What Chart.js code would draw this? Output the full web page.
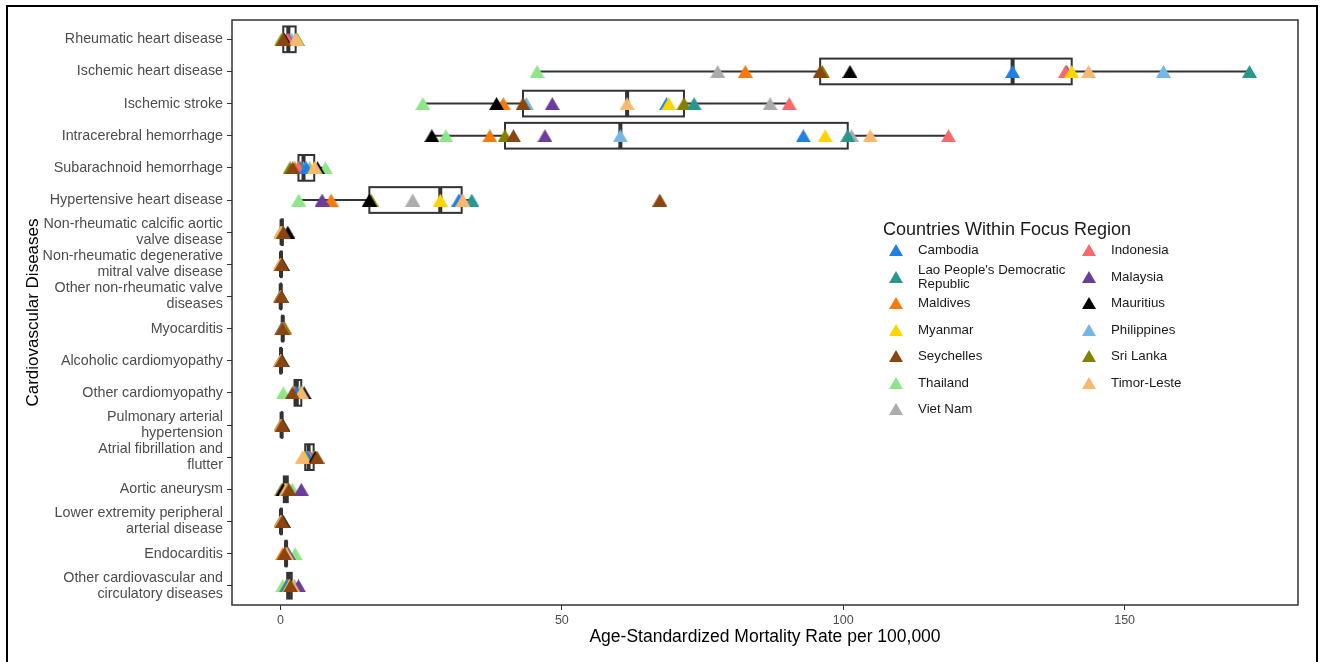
<!DOCTYPE html>
<html lang="en">
<head>
<meta charset="UTF-8">
<title>Cardiovascular disease mortality - focus region</title>
<script src="https://cdn.jsdelivr.net/npm/chart.js@4.4.1/dist/chart.umd.min.js"></script>
<style>
  body { margin: 0; background: #fff; font-family: 'Liberation Sans', Arial, sans-serif; }
  #wrap { position: relative; width: 1325px; height: 662px; overflow: hidden; background: #fff; }
  #frame { position: absolute; left: 6px; top: 5px; width: 1312px; height: 720px; border: 2px solid #000; box-sizing: border-box; }
  canvas { position: absolute; left: 0; top: 0; }
  #legendTitle { position: absolute; left: 883px; top: 218px; font-size: 18px; line-height: 22px; color: #1a1a1a; }
  #legend { position: absolute; left: 889px; top: 237px; display: grid; grid-template-columns: 193px auto; grid-auto-rows: 26.5px; }
  .item { display: flex; align-items: center; font-size: 13.3px; line-height: 14px; color: #1a1a1a; }
  .tri { width: 0; height: 0; border-left: 7px solid transparent; border-right: 7px solid transparent; border-bottom: 12px solid; margin-right: 15px; flex: none; }
</style>
</head>
<body>
<div id="wrap">
  <canvas id="chart" width="1325" height="662"></canvas>
  <div id="frame"></div>
  <div id="legendTitle">Countries Within Focus Region</div>
  <div id="legend"></div>
</div>
<script>
  // categories (top to bottom)
  const diseases = [
    'Rheumatic heart disease',
    'Ischemic heart disease',
    'Ischemic stroke',
    'Intracerebral hemorrhage',
    'Subarachnoid hemorrhage',
    'Hypertensive heart disease',
    'Non-rheumatic calcific aortic\nvalve disease',
    'Non-rheumatic degenerative\nmitral valve disease',
    'Other non-rheumatic valve\ndiseases',
    'Myocarditis',
    'Alcoholic cardiomyopathy',
    'Other cardiomyopathy',
    'Pulmonary arterial\nhypertension',
    'Atrial fibrillation and\nflutter',
    'Aortic aneurysm',
    'Lower extremity peripheral\narterial disease',
    'Endocarditis',
    'Other cardiovascular and\ncirculatory diseases'
  ];

  const countries = ['Cambodia', 'Indonesia', "Lao People's Democratic\nRepublic", 'Malaysia', 'Maldives', 'Mauritius',
    'Myanmar', 'Philippines', 'Seychelles', 'Sri Lanka', 'Thailand', 'Timor-Leste', 'Viet Nam'];
  const colors = ['#1f7fe3', '#f8696b', '#2a978c', '#6a3d9a', '#f77a0c', '#000000',
    '#fed402', '#74b6e6', '#8a4510', '#828200', '#8ee688', '#f9b870', '#acacac'];

  // age-standardized mortality per 100,000, one value per disease (same order as above)
  const cambodia    = [2.8, 130.1, 68.6, 92.9, 4.6, 31.7, 0.3, 0.1, 0.05, 0.3, 0.1, 2.8, 0.2, 4.8, 0.6, 0.1, 1.0, 1.2];
  const indonesia   = [1.3, 139.5, 90.4, 118.7, 3.2, 32.2, 0.2, 0.1, 0.05, 0.4, 0.0, 2.6, 0.2, 5.2, 0.9, 0.1, 1.0, 1.5];
  const lao         = [3.0, 172.2, 73.5, 100.8, 3.8, 34.0, 0.1, 0.0, 0.05, 0.5, 0.1, 3.7, 0.1, 4.4, 0.4, 0.1, 1.1, 1.4];
  const malaysia    = [1.4, 139.7, 48.3, 47.0, 3.5, 7.4, 0.4, 0.2, 0.1, 0.3, 0.0, 2.9, 0.3, 5.3, 3.7, 0.2, 1.4, 3.2];
  const maldives    = [0.4, 82.6, 39.6, 37.2, 2.6, 9.0, 0.2, 0.1, 0.05, 0.2, 0.0, 2.4, 0.1, 4.3, 0.2, 0.1, 0.4, 1.3];
  const mauritius   = [0.7, 101.2, 38.4, 26.9, 6.6, 15.8, 1.3, 0.3, 0.1, 0.6, 0.3, 4.2, 0.4, 6.2, 0.5, 0.5, 1.0, 2.0];
  const myanmar     = [2.9, 140.6, 69.0, 96.8, 6.0, 28.4, 0.1, 0.0, 0.0, 0.7, 0.1, 3.7, 0.2, 4.2, 0.7, 0.1, 0.9, 1.6];
  const philippines = [2.0, 156.9, 43.7, 60.4, 4.1, 31.9, 0.2, 0.1, 0.05, 0.4, 0.1, 3.2, 0.3, 5.0, 1.2, 0.1, 1.2, 2.5];
  const seychelles  = [0.5, 95.9, 43.1, 41.4, 2.2, 67.4, 0.5, 0.2, 0.1, 0.4, 0.2, 2.1, 0.3, 6.5, 1.5, 0.3, 0.7, 1.8];
  const sriLanka    = [0.3, 96.3, 71.7, 39.9, 1.7, 16.1, 0.3, 0.1, 0.05, 0.8, 0.1, 2.5, 0.2, 6.0, 1.3, 0.2, 0.9, 1.1];
  const thailand    = [0.1, 45.6, 25.3, 29.4, 8.0, 3.25, 0.4, 0.2, 0.1, 0.2, 0.2, 0.5, 0.2, 5.9, 2.1, 0.2, 2.6, 0.4];
  const timorLeste  = [2.7, 143.6, 61.6, 104.8, 6.2, 32.4, 0.1, 0.0, 0.0, 0.5, 0.0, 3.8, 0.1, 3.9, 1.0, 0.1, 1.1, 2.2];
  const vietNam     = [1.7, 77.7, 87.0, 101.5, 5.2, 23.5, 0.2, 0.1, 0.05, 0.3, 0.1, 3.4, 0.3, 4.9, 0.8, 0.1, 1.0, 1.0];

  const series = [cambodia, indonesia, lao, malaysia, maldives, mauritius, myanmar,
    philippines, seychelles, sriLanka, thailand, timorLeste, vietNam];

  const xTicks = [0, 50, 100, 150];

  // which markers sit on top where they overlap
  const onTop = ['Seychelles', 'Timor-Leste', 'Mauritius', 'Myanmar'];

  const FONT = "'Liberation Sans', Arial, sans-serif";
  const INK = '#333333';

  // legend (html, two columns filled by row)
  const legend = document.getElementById('legend');
  countries.forEach((c, i) => {
    const item = document.createElement('div');
    item.className = 'item';
    item.innerHTML = `<span class="tri" style="border-bottom-color:${colors[i]}"></span><span>${c.replace('\n', '<br>')}</span>`;
    legend.appendChild(item);
  });

  // triangle marker, box-centred on the point like ggplot's shape 17
  function triangle(color) {
    const c = document.createElement('canvas');
    c.width = 15; c.height = 13;
    const g = c.getContext('2d');
    g.fillStyle = color;
    g.beginPath();
    g.moveTo(0, 13); g.lineTo(7.5, 0); g.lineTo(15, 13);
    g.closePath();
    g.fill();
    return c;
  }

  function quantile(sorted, p) {
    const h = (sorted.length - 1) * p;
    const lo = Math.floor(h);
    const next = lo + 1 < sorted.length ? sorted[lo + 1] : sorted[lo];
    return sorted[lo] + (h - lo) * (next - sorted[lo]);
  }

  // boxplot per disease, computed from the country values
  const boxPlugin = {
    id: 'boxes',
    beforeDatasetsDraw(chart) {
      const { ctx, scales: { x, y } } = chart;
      ctx.save();
      ctx.strokeStyle = INK;
      diseases.forEach((d, i) => {
        const vals = series.map(s => s[i]).sort((a, b) => a - b);
        const q1 = quantile(vals, 0.25), med = quantile(vals, 0.5), q3 = quantile(vals, 0.75);
        const iqr = q3 - q1;
        const lo = Math.min(...vals.filter(v => v >= q1 - 1.5 * iqr));
        const hi = Math.max(...vals.filter(v => v <= q3 + 1.5 * iqr));
        const yc = y.getPixelForValue(i);
        const half = Math.abs(y.getPixelForValue(i + 0.4) - yc);
        const x1 = x.getPixelForValue(q1), x3 = x.getPixelForValue(q3);

        ctx.lineWidth = 2;
        ctx.beginPath();
        ctx.moveTo(x.getPixelForValue(lo), yc); ctx.lineTo(x1, yc);
        ctx.moveTo(x3, yc); ctx.lineTo(x.getPixelForValue(hi), yc);
        ctx.stroke();

        ctx.fillStyle = '#fff';
        ctx.fillRect(x1, yc - half, x3 - x1, 2 * half);
        ctx.strokeRect(x1, yc - half, x3 - x1, 2 * half);

        ctx.lineWidth = 4;
        ctx.beginPath();
        ctx.moveTo(x.getPixelForValue(med), yc - half);
        ctx.lineTo(x.getPixelForValue(med), yc + half);
        ctx.stroke();
      });
      ctx.restore();
    },
    afterDraw(chart) {
      const { ctx, chartArea: a } = chart;
      ctx.save();
      ctx.strokeStyle = INK;
      ctx.lineWidth = 1.5;
      ctx.strokeRect(a.left, a.top, a.right - a.left, a.bottom - a.top);
      ctx.restore();
    }
  };

  const datasets = countries.map((c, i) => ({
    label: c.replace('\n', ' '),
    data: series[i].map((v, k) => ({ x: v, y: k })),
    backgroundColor: colors[i],
    borderColor: colors[i],
    borderWidth: 0,
    pointStyle: triangle(colors[i]),
    pointRadius: 8,
    order: onTop.includes(c) ? onTop.indexOf(c) : 10
  }));

  new Chart(document.getElementById('chart'), {
    type: 'scatter',
    data: { datasets },
    plugins: [boxPlugin],
    options: {
      responsive: false,
      animation: false,
      devicePixelRatio: 1,
      layout: { padding: { top: 20, right: 27, left: 0, bottom: 0 } },
      plugins: { legend: { display: false }, tooltip: { enabled: false } },
      scales: {
        x: {
          type: 'linear',
          min: -8.61,
          max: 180.81,
          afterBuildTicks: axis => { axis.ticks = xTicks.map(v => ({ value: v })); },
          afterFit: axis => { axis.height = 57; },
          grid: { display: true, drawOnChartArea: false, drawTicks: true, tickLength: 5, color: INK },
          border: { display: false },
          ticks: { color: '#4d4d4d', font: { family: FONT, size: 12.5 }, padding: 3, autoSkip: false },
          title: {
            display: true,
            text: 'Age-Standardized Mortality Rate per 100,000',
            color: '#000',
            font: { family: FONT, size: 17.5, lineHeight: 1.2 },
            padding: { top: 0, bottom: 14.5 }
          }
        },
        y: {
          type: 'linear',
          min: -0.6,
          max: 17.6,
          reverse: true,
          afterBuildTicks: axis => { axis.ticks = diseases.map((d, i) => ({ value: i })); },
          afterFit: axis => { axis.width = 232; },
          grid: { display: true, drawOnChartArea: false, drawTicks: true, tickLength: 5, color: INK },
          border: { display: false },
          ticks: {
            color: '#4d4d4d',
            font: { family: FONT, size: 14.3, lineHeight: 1.12 },
            padding: 4,
            autoSkip: false,
            callback: v => diseases[v] ? diseases[v].split('\n') : ''
          },
          title: {
            display: true,
            text: 'Cardiovascular Diseases',
            color: '#000',
            font: { family: FONT, size: 17, lineHeight: 1.2 },
            padding: { top: 22.8, bottom: 0 }
          }
        }
      }
    }
  });
</script>
</body>
</html>
